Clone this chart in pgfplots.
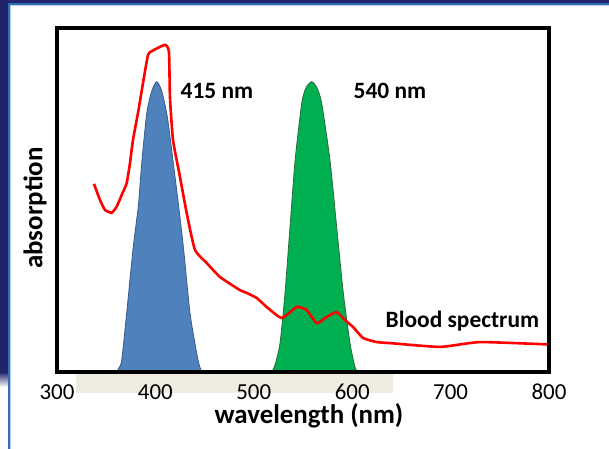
\documentclass[border=0pt]{standalone}
\usepackage{pgfplots}
\pgfplotsset{compat=1.18}
\usepackage{fontspec}
\setmainfont{Carlito}

\definecolor{navy}{HTML}{22246A}
\definecolor{slideblue}{HTML}{2E6DB4}
\definecolor{lightline}{HTML}{B8D0EA}
\definecolor{beige}{HTML}{EEECE1}
\definecolor{peakblue}{HTML}{4F81BD}
\definecolor{peakblueedge}{HTML}{385D8A}
\definecolor{peakgreen}{HTML}{00B050}
\definecolor{peakgreenedge}{HTML}{2A6B3A}

\begin{document}
\begin{tikzpicture}
% page frame: axis box lower left sits at (0,0)
\path[use as bounding box] (-57bp,-77bp) rectangle (552bp,372bp);
% slide decoration
\fill[navy] (-57bp,369bp) rectangle (552bp,372bp);
\fill[slideblue] (-57bp,366.5bp) rectangle (552bp,369bp);
\fill[lightline] (-49bp,365.5bp) rectangle (552bp,366.5bp);
\fill[navy] (-57bp,0bp) rectangle (-49bp,372bp);
\shade[top color=navy, bottom color=white] (-57bp,-15bp) rectangle (-49bp,0bp);
\fill[slideblue] (-49bp,-77bp) rectangle (-47bp,366.5bp);
\fill[lightline] (-47bp,-77bp) rectangle (-46bp,365.5bp);
% beige strip under the x axis
\fill[beige] (19bp,-1.5bp) rectangle (336bp,-21bp);

\begin{axis}[
    scale only axis,
    width=492bp,
    height=344bp,
    xmin=300, xmax=800,
    ymin=0, ymax=100,
    axis on top,
    axis line style={line width=3.5bp},
    xtick={300,400,500,600,700,800},
    ytick=\empty,
    major tick length=0pt,
    tick label style={font=\fontsize{23}{25}\selectfont},
    xticklabel style={anchor=center, yshift=-20bp, inner sep=0pt},
    /pgf/number format/assume math mode=true,
    xlabel={wavelength (nm)},
    ylabel={absorption},
    label style={font=\fontsize{27}{30}\selectfont\bfseries, inner sep=0pt},
    xlabel style={at={(rel axis cs:0.5,0)}, anchor=center, xshift=6bp, yshift=-44bp},
    ylabel style={at={(rel axis cs:0,0.5)}, anchor=center, xshift=-8bp, yshift=22bp},
]
% blue filter band
\addplot[fill=peakblue, draw=peakblueedge, line width=0.8bp, smooth, tension=0.4] coordinates {
(360.7,0) (363.0,1.2) (365.8,3.5) (370.8,17.1) (377.5,36.4) (382.6,48.1)
(386.1,60.7) (391.2,75.2) (396.2,81.6) (401.3,84.4) (406.4,81.7)
(412.1,74.2) (418.2,60.7) (423.3,49.0) (428.4,36.4) (435.2,17.1)
(442.0,5.4) (444.8,1.8) (447.1,0)
} -- cycle;
% green filter band
\addplot[fill=peakgreen, draw=peakgreenedge, line width=0.8bp, smooth, tension=0.4] coordinates {
(518.2,0) (521.5,2.0) (526.6,8.3) (531.7,22.9) (536.8,42.2) (542.0,61.6)
(548.7,78.1) (553.0,82.6) (558.8,84.4) (564.2,82.6) (569.0,78.1)
(577.4,61.6) (584.2,42.2) (591.0,22.9) (597.8,8.3) (602.8,1.5) (605.6,0)
} -- cycle;
% blood absorption spectrum
\addplot[red, line width=2.6bp, smooth, tension=0.3] coordinates {
(337.6,54.7) (343.7,50.0) (348.8,47.1) (355.6,46.3) (360.7,48.1)
(365.8,51.5) (370.8,54.9) (374.2,60.8) (377.2,67.4) (382.3,75.3)
(387.4,84.0) (392.5,92.2) (396.5,93.3) (409.8,95.1) (413.8,93.0)
(414.8,79.9) (417.9,67.4) (425.0,56.7) (431.8,46.2) (440.2,35.5)
(452.1,31.7) (465.7,27.6) (486.0,23.8) (492.8,23.0) (503.0,21.5)
(513.1,18.9) (528.4,15.7) (543.6,18.9) (553.8,18.0) (563.9,14.2)
(574.1,16.0) (584.2,17.4) (592.7,15.1) (600.8,13.1) (611.0,9.9)
(624.9,8.7) (638.4,8.4) (689.2,7.3) (729.9,8.7) (800.0,8.0)
};
\node[font=\fontsize{23.5}{26}\selectfont\bfseries, anchor=center, inner sep=0pt] at (axis cs:462.6,81.7) {415 nm};
\node[font=\fontsize{23.5}{26}\selectfont\bfseries, anchor=center, inner sep=0pt] at (axis cs:638.4,81.7) {540 nm};
\node[font=\fontsize{23.5}{26}\selectfont\bfseries, anchor=center, inner sep=0pt] at (axis cs:712,14.7) {Blood spectrum};
\end{axis}
\end{tikzpicture}
\end{document}
